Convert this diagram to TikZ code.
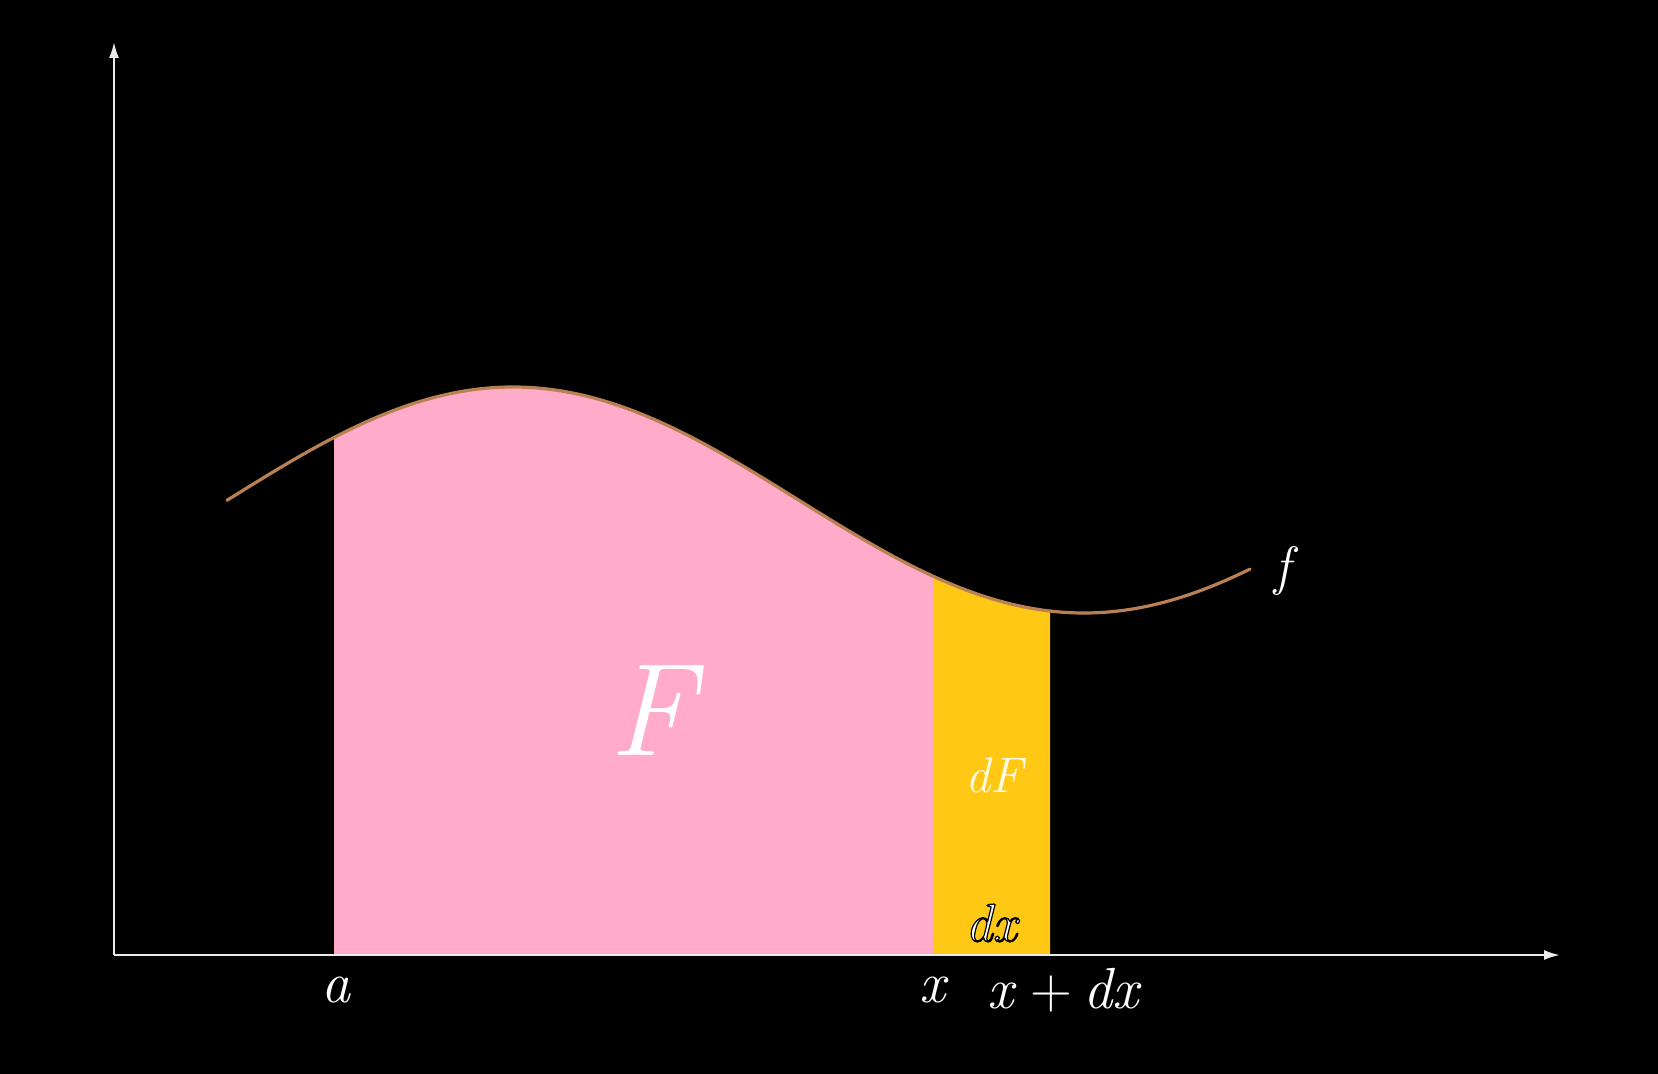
\documentclass[tikz,border=0pt]{standalone}
\usetikzlibrary{arrows.meta,calc}
\definecolor{pinkF}{RGB}{255,171,201}
\definecolor{yellowF}{RGB}{255,200,20}
\definecolor{curveF}{RGB}{185,128,84}
\definecolor{creamF}{RGB}{255,250,228}
\newcommand{\outlinedtext}[1]{\special{pdf:literal direct 2 Tr 0.6 w 0 G}#1\special{pdf:literal direct 0 Tr}}
\begin{document}
\begin{tikzpicture}[x=0.5pt,y=-0.5pt,
  declare function={fc(\t)=500-113*cos((\t-513)*0.315236);},
  axis/.style={draw=white!92!black,line width=1pt,-{Latex[length=8pt,width=5pt]}},
  curveline/.style={draw=curveF,line width=1.6pt,line cap=round},
  lbl/.style={text=white,font=\fontsize{29}{32}\selectfont\itshape,inner sep=0pt}]
\fill[black] (0,0) rectangle (1658,1074);
\useasboundingbox (0,0) rectangle (1658,1074);
% areas
\fill[pinkF] (334,955) -- plot[domain=334:933,samples=120] (\x,{fc(\x)}) -- (933,955) -- cycle;
\fill[yellowF] (933,955) -- plot[domain=933:1050,samples=40] (\x,{fc(\x)}) -- (1050,955) -- cycle;
% axes
\coordinate (O) at (114,955);
\coordinate (Ytop) at (114,42);
\coordinate (Xend) at (1560,955);
\draw[axis] (O) -- (Ytop);
\draw[axis] (O) -- (Xend);
% curve
\draw[curveline] plot[domain=227:1250,samples=200,smooth] (\x,{fc(\x)});
% labels
\node[text=white,font=\fontsize{66}{70}\selectfont\itshape,inner sep=0pt] (F) at (652,711) {F};
\node[text=creamF,font=\fontsize{25}{28}\selectfont\itshape,inner sep=0pt] (dF) at (994,775) {dF};
\node[text=white,font=\fontsize{27}{30}\selectfont\itshape,inner sep=0pt] (dx) at (991,923) {\outlinedtext{dx}};
\node[text=white,font=\fontsize{27}{30}\selectfont\itshape,inner sep=0pt] (f) at (1283,571) {f};
\node[lbl] (a) at (336,990) {a};
\node[lbl] (x) at (933,990) {x};
\node[lbl] (xdx) at (1063,990) {x\hspace{0.3em}{\upshape +}\hspace{0.2em}dx};
\end{tikzpicture}
\end{document}
